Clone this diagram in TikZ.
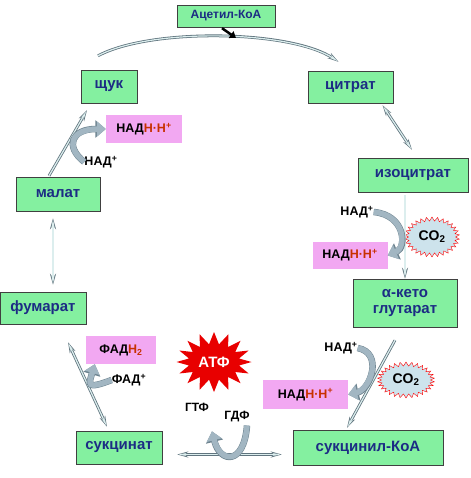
\documentclass[tikz,border=0pt]{standalone}
\usepackage{fontspec}
\setmainfont{Liberation Sans}
\usetikzlibrary{arrows.meta,positioning,calc,shapes.symbols}
\definecolor{metGreen}{HTML}{84F0A0}
\definecolor{metBlue}{HTML}{1C2C84}
\definecolor{cofPink}{HTML}{F2A8F2}
\definecolor{hRed}{HTML}{C83000}
\definecolor{rxnLine}{HTML}{60747E}
\definecolor{rxnFill}{HTML}{DCEEEE}
\definecolor{fatGray}{HTML}{A2B6C2}
\definecolor{fatEdge}{HTML}{6E8490}
\definecolor{co2Fill}{HTML}{CDE3EC}
\definecolor{atfRed}{HTML}{E80000}

\begin{document}
\begin{tikzpicture}[x=1pt, y=-1pt, font=\bfseries,
  met/.style={draw=black!75, fill=metGreen, text=metBlue, inner sep=0pt, align=center,
    font=\fontsize{15}{16}\selectfont\bfseries},
  cof/.style={fill=cofPink, inner sep=0pt, font=\fontsize{12.5}{14}\selectfont\bfseries},
  lbl/.style={inner sep=0pt, font=\fontsize{12.5}{13}\selectfont\bfseries},
  burst/.style={starburst, random starburst=0, inner sep=0pt},
  rxn/.style={draw=rxnLine, line width=2.8pt, -{Stealth[length=11pt,width=6pt]},
    postaction={draw=rxnFill, line width=1.2pt, -{Stealth[length=8pt,width=3pt]}, shorten >=1.3pt}},
  rxnboth/.style={draw=rxnLine, line width=2.8pt, {Stealth[length=11pt,width=6pt]}-{Stealth[length=11pt,width=6pt]},
    postaction={draw=rxnFill, line width=1.2pt, {Stealth[length=8pt,width=3pt]}-{Stealth[length=8pt,width=3pt]},
      shorten >=1.3pt, shorten <=1.3pt}},
  fat/.style={draw=fatGray, line width=5.5pt, -{Triangle[length=9pt,width=15pt]},
    preaction={draw=fatEdge, line width=6.5pt, -{Triangle[length=10.5pt,width=17pt]}}}]
\useasboundingbox (0,0) rectangle (470,478);

% metabolites
\node[met, minimum width=98pt, minimum height=22pt, font=\fontsize{12}{13}\selectfont\bfseries] (acetyl) at (226,16) {Ацетил-КоА};
\node[met, minimum width=56pt, minimum height=33pt] (shchuk) at (109,86.5) {щук};
\node[met, minimum width=85pt, minimum height=32pt] (citrat) at (350.5,87) {цитрат};
\node[met, minimum width=110pt, minimum height=34pt] (izocit) at (413,175) {изоцитрат};
\node[met, minimum width=104pt, minimum height=48pt] (akg) at (405,303) {α-кето\\глутарат};
\node[met, minimum width=150pt, minimum height=35pt] (sukcoa) at (368,447.5) {сукцинил-КоА};
\node[met, minimum width=86pt, minimum height=33pt] (sukcin) at (119,447.5) {сукцинат};
\node[met, minimum width=86pt, minimum height=32pt] (fumar) at (43,308) {фумарат};
\node[met, minimum width=84pt, minimum height=34pt] (malat) at (58,194) {малат};

% cofactors
\node[cof, minimum width=76pt, minimum height=28pt] (nadhA) at (144,129) {НАД\textcolor{hRed}{Н·Н\textsuperscript{+}}};
\node[cof, minimum width=75pt, minimum height=27pt] (nadhB) at (350,255.5) {НАД\textcolor{hRed}{Н·Н\textsuperscript{+}}};
\node[cof, minimum width=85pt, minimum height=29pt] (nadhC) at (305.5,394.5) {НАД\textcolor{hRed}{Н·Н\textsuperscript{+}}};
\node[cof, minimum width=70pt, minimum height=28pt] (fadh) at (121,350) {ФАД\textcolor{hRed}{Н\textsubscript{2}}};
\node[lbl] (nadA) at (101,162) {НАД\textsuperscript{+}};
\node[lbl] (nadB) at (357,212) {НАД\textsuperscript{+}};
\node[lbl] (nadC) at (341,348) {НАД\textsuperscript{+}};
\node[lbl] (fadA) at (129,380) {ФАД\textsuperscript{+}};
\node[lbl, font=\fontsize{12}{13}\selectfont\bfseries] (gtp) at (197,407) {ГТФ};
\node[lbl, font=\fontsize{12}{13}\selectfont\bfseries] (gdp) at (237,417) {ГДФ};

% CO2 and ATP bursts
\node[burst, draw=red, fill=co2Fill, starburst points=30, starburst point height=4pt,
  minimum width=55pt, minimum height=40pt, font=\fontsize{14}{15}\selectfont\bfseries] (co2A) at (432,237) {CO\textsubscript{2}};
\node[burst, draw=red, fill=co2Fill, starburst points=30, starburst point height=4pt,
  minimum width=57pt, minimum height=36pt, font=\fontsize{14}{15}\selectfont\bfseries] (co2B) at (406,380) {CO\textsubscript{2}};
\node[burst, fill=atfRed, text=white, starburst points=16, starburst point height=12pt,
  minimum width=75pt, minimum height=60pt, font=\fontsize{15}{16}\selectfont\bfseries] (atf) at (214,362) {АТФ};

% cycle
\draw[rxn] ($(shchuk.north)+(-11,-14)$) .. controls +(52,-28) and +(-48,-32) .. ($(citrat.north)+(-12,-9)$);
\coordinate (join) at (236,38);
\draw[line width=2.5pt, -{Triangle[length=6pt,width=8pt]}] ($(acetyl.south)+(-4,1)$) -- (join);
\draw[rxnboth] ($(citrat.south)+(32,2)$) -- ($(izocit.north)+(-1,-8)$);
\draw[rxn] ($(izocit.south)+(-8,3)$) -- (akg.north);
\draw[rxn] ($(akg.south)+(-10,13)$) -- ($(sukcoa.north)+(-21,-2)$);
\draw[rxnboth] ($(sukcoa.west)+(-11,7)$) -- ($(sukcin.east)+(15,7)$);
\draw[rxnboth] ($(fumar.south)+(25,18)$) -- ($(sukcin.north)+(-12,-4)$);
\draw[rxnboth] ($(malat.south)+(-5,7)$) -- ($(fumar.north)+(10,-7)$);
\draw[rxn] ($(malat.north)+(-9,-1)$) -- ($(shchuk.south)+(-22,7)$);

% cofactor turnover
\draw[fat] (nadA.west) .. controls +(-20,-16) and +(-34,0) .. (nadhA.west);
\draw[fat] (nadB.east) .. controls +(32,3) and +(19,-8) .. (nadhB.east);
\draw[fat] (nadC.east) .. controls +(26,5) and +(22,-5) .. (nadhC.east);
\draw[fat] (fadA.west) .. controls +(-26,10) and +(-6,20) .. ($(fadh.south west)+(9,0)$);
\draw[fat] ($(gdp.south)+(10,3)$) .. controls +(-3,40) and +(8,32) .. ($(gtp.south)+(15,20)$);
\end{tikzpicture}
\end{document}
